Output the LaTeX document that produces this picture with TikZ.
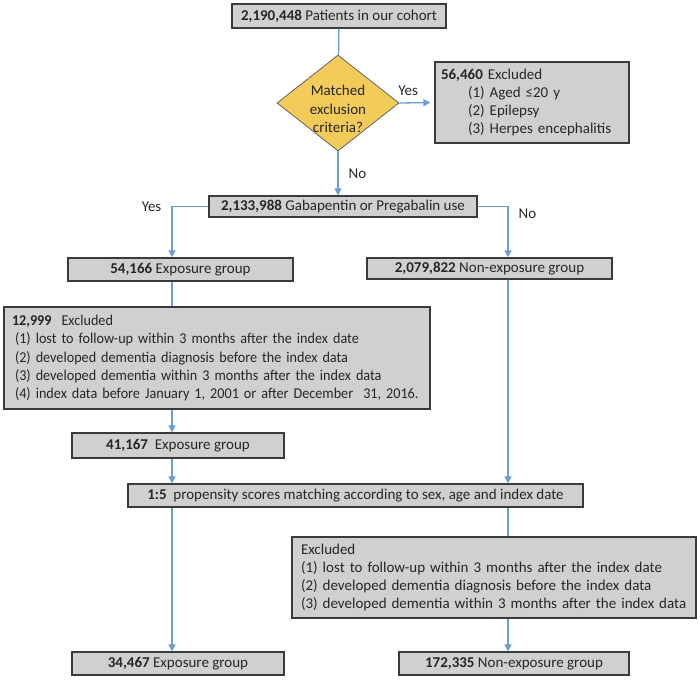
\documentclass[tikz,border=0pt]{standalone}
\usepackage{fontspec}
\setmainfont{Carlito}
\newfontfamily\narrowfont[FakeStretch=0.945]{Carlito}
\usetikzlibrary{arrows.meta,shapes.geometric}
\definecolor{boxgray}{HTML}{D0D0D0}
\definecolor{boxline}{HTML}{3A3A3A}
\definecolor{decgold}{HTML}{F3CB5B}
\definecolor{linkblue}{HTML}{6C9BD9}
\definecolor{inktext}{HTML}{262626}
\newcommand{\Num}[1]{\textbf{#1}}

\begin{document}
\begin{tikzpicture}[x=1pt,y=-1pt,
  font=\fontsize{15}{18.3}\selectfont,
  box/.style={draw=boxline,fill=boxgray,line width=1.2pt,inner sep=0pt,text=inktext},
  listbox/.style={box,align=left,inner xsep=6pt},
  decision/.style={diamond,draw=boxline!80,fill=decgold,line width=0.8pt,inner sep=0pt,minimum width=122pt,minimum height=96pt},
  link/.style={color=linkblue,line width=1.3pt},
  arrow/.style={link,-{Triangle[length=7pt,width=7pt]}},
  tag/.style={text=inktext,inner sep=1pt}]
\useasboundingbox (0,0) rectangle (700,680);
% screening
\node (top) [box,minimum width=214pt,minimum height=24pt] at (339,16) {\Num{2,190,448} Patients in our cohort};
\node (dec) [decision] at (338,103) {};
\node (dectext) [align=center,text=inktext] at (338,109) {Matched\\exclusion\\criteria?};
\node (excl1) [listbox,text width=182pt,minimum height=81pt] at (532,102.5) {\Num{56,460} Excluded\\
  \hspace*{27pt}(1) Aged ≤20 y\\
  \hspace*{27pt}(2) Epilepsy\\
  \hspace*{27pt}(3) Herpes encephalitis};
\node (gab) [box,minimum width=268pt,minimum height=21pt] at (343,206.5) {\Num{2,133,988} Gabapentin or Pregabalin use};
%
\coordinate (lx) at (172,0);
\coordinate (rx) at (508,0);
% exposure arm
\node (exp1) [box,minimum width=225pt,minimum height=23pt] at (180.5,269.5) {\Num{54,166} Exposure group};
\node (excl2) [listbox,text width=414pt,minimum height=102pt,font=\narrowfont\fontsize{15}{18.4}\selectfont] at (217,358) {\hspace*{2pt}\Num{12,999}\ \ Excluded\\
  \hspace*{5pt}(1) lost to follow-up within 3 months after the index date\\
  \hspace*{5pt}(2) developed dementia diagnosis before the index data\\
  \hspace*{5pt}(3) developed dementia within 3 months after the index data\\
  \hspace*{5pt}(4) index data before January 1, 2001 or after December\ \ 31, 2016.};
\node (exp2) [box,minimum width=212pt,minimum height=25pt] at (178,445.5) {\Num{41,167}\ \ Exposure group};
% non-exposure arm
\node (nonexp1) [box,minimum width=245pt,minimum height=21pt] at (489.5,268.5) {\Num{2,079,822} Non-exposure group};
% matching
\node (psm) [box,minimum width=455pt,minimum height=23pt] at (355.5,495.5) {\Num{1:5}\ \ propensity scores matching according to sex, age and index date};
\node (excl3) [listbox,inner xsep=9pt,text width=386pt,minimum height=81pt] at (494,577.5) {Excluded\\
  (1) lost to follow-up within 3 months after the index date\\
  (2) developed dementia diagnosis before the index data\\
  (3) developed dementia within 3 months after the index data};
\node (exp3) [box,minimum width=212pt,minimum height=23pt] at (178,663.5) {\Num{34,467} Exposure group};
\node (nonexp3) [box,minimum width=230pt,minimum height=23pt] at (514,663.5) {\Num{172,335} Non-exposure group};
%
\path[link] (top) edge (dec);
\path[arrow,shorten >=4pt] (dec.east) edge node[tag,above=6pt,pos=0.25] {Yes} (excl1.west);
\path[arrow] (dec.south) edge node[tag,right=9pt] {No} (dec.south |- gab.north);
\draw[arrow] (gab.west) -| node[tag,pos=0.5,left=9pt] {Yes} (exp1.north -| lx);
\draw[arrow] (gab.east) -| node[tag,pos=0.57,right=9pt] {No} (nonexp1.north -| rx);
%
\path[link] (exp1.south -| lx) edge (excl2.north -| lx);
\path[arrow] (excl2.south -| lx) edge (exp2.north -| lx);
\path[arrow] (exp2.south -| lx) edge (psm.north -| lx);
\path[arrow] (nonexp1.south -| rx) edge (psm.north -| rx);
\path[arrow] (psm.south -| lx) edge (exp3.north -| lx);
\path[link] (psm.south -| rx) edge (excl3.north -| rx);
\path[arrow] (excl3.south -| rx) edge (nonexp3.north -| rx);
\end{tikzpicture}
\end{document}
